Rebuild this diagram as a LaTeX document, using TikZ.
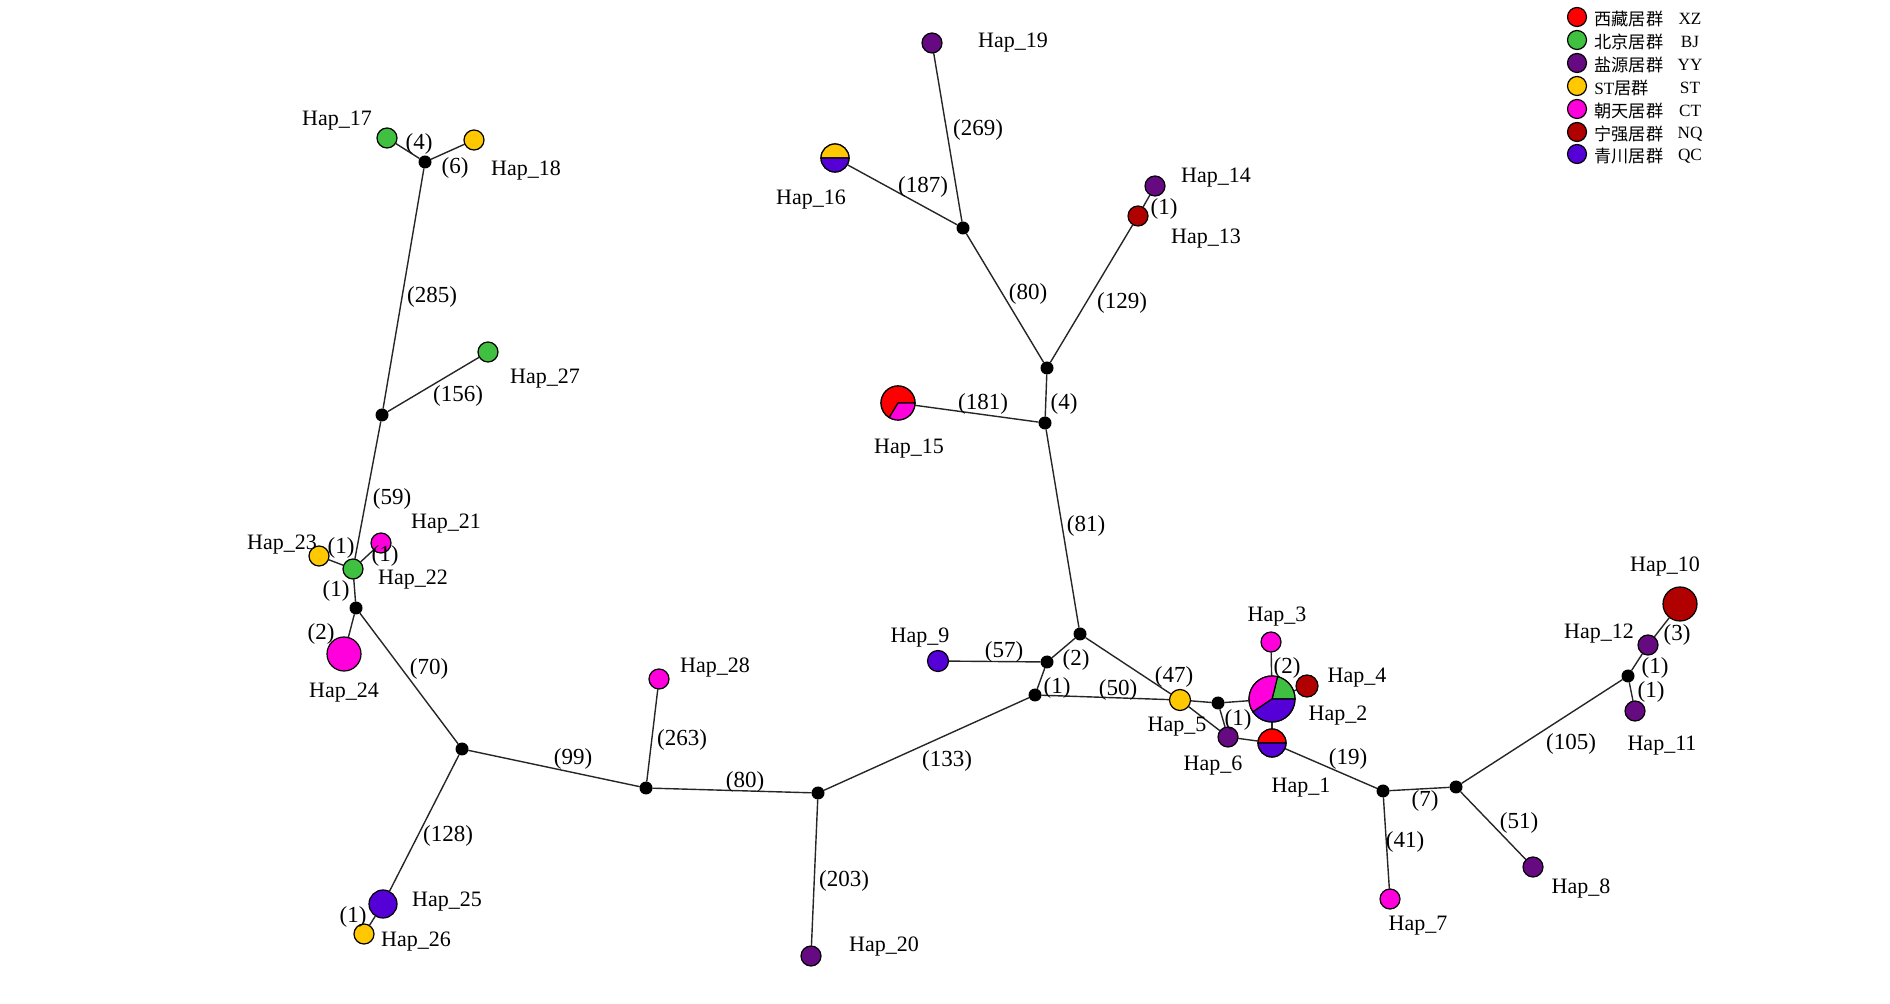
\documentclass[tikz,border=0pt]{standalone}
\usepackage{fontspec}
\setmainfont{Liberation Serif}
\newfontfamily\cjk{Noto Sans CJK SC}
\definecolor{xz}{RGB}{255,0,0}
\definecolor{bj}{RGB}{64,192,64}
\definecolor{yy}{RGB}{102,10,130}
\definecolor{st}{RGB}{255,200,0}
\definecolor{ct}{RGB}{255,0,220}
\definecolor{nq}{RGB}{176,0,0}
\definecolor{qc}{RGB}{84,0,215}
\tikzset{
  hap/.style={circle, draw, line width=0.6pt, inner sep=0pt},
  jn/.style={circle, fill=black, inner sep=0pt, minimum size=6.5pt},
  link/.style={line width=0.7pt, black!85},
  lab/.style={font=\fontsize{11}{13}\selectfont, inner sep=0pt, yshift=-1.5pt},
  num/.style={font=\fontsize{11.5}{13}\selectfont, inner sep=0pt, yshift=-1pt},
  leg/.style={font=\fontsize{8.6}{10}\selectfont, inner sep=0pt, yshift=-1pt},
}
\newcommand\piepart[5]{\filldraw[fill=#1, draw=black, line width=0.6pt]
  (#2.center) -- ++(#3:#5) arc[start angle=#3, end angle=#4, radius=#5] -- cycle;}
\begin{document}
\begin{tikzpicture}[x=0.5pt, y=-0.5pt, line join=round, line cap=round]
\useasboundingbox (0,0) rectangle (1890,1004);

\foreach \n/\x/\y/\c/\s in {1/1272/743/none/14, 2/1272/699/none/23, 3/1271/642/ct/10,
  4/1307/686/nq/11, 5/1180/700/st/10.5, 6/1228/737/yy/10, 7/1390/899/ct/10,
  8/1533/867/yy/10, 9/938/661/qc/10.5, 10/1680/604/nq/17, 11/1635/711/yy/10,
  12/1648/645/yy/10, 13/1138/216/nq/10, 14/1155/186/yy/10, 15/898/403/none/17,
  16/835/158/none/14, 17/387/138/bj/10, 18/474/140/st/10, 19/932/43/yy/10,
  20/811/956/yy/10, 21/381/543/ct/10, 22/353/569/bj/10, 23/319/556/st/10,
  24/344/654/ct/17, 25/383/904/qc/14, 26/364/934/st/10, 27/488/352/bj/10,
  28/659/679/ct/10}
    \node[hap, fill=\c, minimum size=\s pt] (H\n) at (\x,\y) {};

\foreach \n/\x/\y in {1/425/162, 2/382/415, 3/356/608, 4/462/749, 5/646/788,
  6/818/793, 7/1035/695, 8/1047/662, 9/1080/634, 10/1218/703, 11/1383/791,
  12/1456/787, 13/1628/676, 14/1045/423, 15/1047/368, 16/963/228}
    \node[jn] (m\n) at (\x,\y) {};

\foreach \a/\b in {m1/H17, m1/H18, m1/m2, m2/H27, m2/H22, H22/H23, H22/H21,
  H22/m3, m3/H24, m3/m4, m4/H25, H25/H26, m4/m5, m5/H28, m5/m6, m6/H20,
  m6/m7, m7/m8, m8/H9, m8/m9, m7/H5, m9/H5, H5/H6, H5/m10, m10/H2, m10/H6,
  H6/H1, H2/H3, H2/H4, H2/H1, H1/m11, m11/H7, m11/m12, m12/H8, m12/m13,
  m13/H11, m13/H12, H12/H10, m9/m14, m14/H15, m14/m15, m15/H13, H13/H14,
  m15/m16, m16/H16, m16/H19}
    \draw[link] (\a) -- (\b);

\piepart{xz}{H1}{0}{180}{7pt}
\piepart{qc}{H1}{180}{360}{7pt}
\piepart{bj}{H2}{0}{76}{11.5pt}
\piepart{ct}{H2}{76}{214}{11.5pt}
\piepart{qc}{H2}{214}{360}{11.5pt}
\piepart{xz}{H15}{0}{239}{8.5pt}
\piepart{ct}{H15}{239}{360}{8.5pt}
\piepart{st}{H16}{0}{180}{7pt}
\piepart{qc}{H16}{180}{360}{7pt}

\foreach \n/\x/\y in {1/1301/785, 2/1338/713, 3/1277/614, 4/1357/675, 5/1177/724,
  6/1213/763, 7/1418/923, 8/1581/886, 9/920/635, 10/1665/564, 11/1662/743,
  12/1599/631, 13/1206/236, 14/1216/175, 15/909/446, 16/811/197, 17/337/118,
  18/526/168, 19/1013/40, 20/884/944, 21/446/521, 22/413/577, 23/282/542,
  24/344/690, 25/447/899, 26/416/939, 27/545/376, 28/715/665}
    \node[lab] (t\n) at (\x,\y) {Hap\_\n};

\foreach \x/\y/\t [count=\i] in {419/142/4, 455/166/6, 432/295/285, 458/394/156,
  392/497/59, 341/546/1, 385/554/1, 336/589/1, 321/632/2, 429/667/70,
  448/834/128, 353/915/1, 573/757/99, 682/738/263, 745/780/80, 844/879/203,
  947/759/133, 1004/650/57, 1057/686/1, 1076/658/2, 1118/688/50, 1174/675/47,
  1238/718/1, 1287/666/2, 1348/757/19, 1425/799/7, 1405/840/41, 1519/821/51,
  1571/742/105, 1651/690/1, 1655/666/1, 1677/633/3, 1086/524/81, 1064/402/4,
  983/402/181, 1028/292/80, 1122/301/129, 1164/207/1, 923/185/187, 978/128/269}
    \node[num] (n\i) at (\x,\y) {(\t)};

\foreach \c/\t/\k/\y [count=\i] in {xz/{\cjk 西藏居群}/XZ/17, bj/{\cjk 北京居群}/BJ/40,
  yy/{\cjk 盐源居群}/YY/63, st/{ST{\cjk 居群}}/ST/86, ct/{\cjk 朝天居群}/CT/109,
  nq/{\cjk 宁强居群}/NQ/132, qc/{\cjk 青川居群}/QC/154} {
    \node[hap, fill=\c, minimum size=9.5pt] (k\i) at (1577,\y) {};
    \node[leg, anchor=west] (l\i) at (1594,\y) {\t};
    \node[leg] (c\i) at (1690,\y) {\k};
}
\end{tikzpicture}
\end{document}
